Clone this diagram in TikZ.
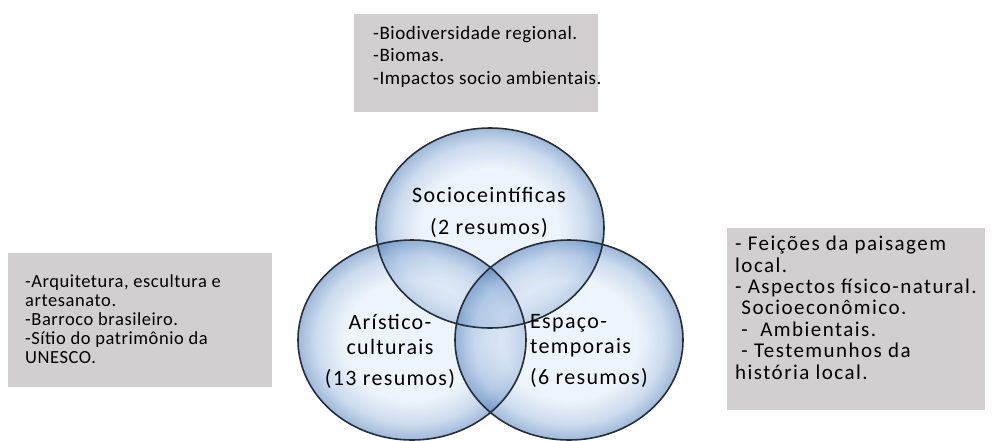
\documentclass[tikz,border=0pt]{standalone}
\usepackage{fontspec}
\setmainfont{Carlito}
\newfontfamily\topfont[LetterSpace=3]{Carlito}
\newfontfamily\leftfont[LetterSpace=3]{Carlito}
\newfontfamily\rightfont[LetterSpace=7]{Carlito}
\newfontfamily\bubblefont[LetterSpace=6]{Carlito}
\usetikzlibrary{calc,shapes.geometric}

\definecolor{boxgray}{RGB}{209,207,208}
\definecolor{bubbleout}{RGB}{64,114,178}
\definecolor{bubblemid}{RGB}{155,184,222}
\definecolor{bubblein}{RGB}{222,233,247}
\definecolor{rimcol}{RGB}{36,46,58}

\pgfdeclareradialshading{glassy}{\pgfpoint{0bp}{0bp}}{%
  color(0bp)=(bubblein); color(15bp)=(bubblein); color(21bp)=(bubblemid);
  color(25bp)=(bubbleout); color(50bp)=(bubbleout)}

\tikzset{
  bubble/.style={ellipse, minimum width=228pt, minimum height=200pt, inner sep=0pt,
    shading=glassy, fill opacity=.5},
  rim/.style={draw=rimcol, line width=1.6pt},
  notebox/.style={fill=boxgray, inner sep=0pt, anchor=north west},
  notetext/.style={anchor=north west, align=left, inner sep=0pt},
  label/.style={align=center, inner sep=0pt}
}

\begin{document}
\begin{tikzpicture}[x=1pt,y=-1pt]
  \def\rx{114}  % half width of a bubble
  \def\ry{100}  % half height
  \useasboundingbox (0,0) rectangle (993,440);

  % Grey note boxes
  \node[notebox, minimum width=244pt, minimum height=98pt] (topbox) at (354,14) {};
  \node[notebox, minimum width=264pt, minimum height=134pt] (leftbox) at (8,253) {};
  \node[notebox, minimum width=258pt, minimum height=182pt] (rightbox) at (727,228) {};

  \node[notetext, font=\topfont\fontsize{19}{22.5}\selectfont] (toptext)
    at ($(topbox.north west)+(19,12)$)
    {-Biodiversidade regional.\\-Biomas.\\-Impactos socio ambientais.};
  \node[notetext, font=\leftfont\fontsize{18.5}{19}\selectfont] (lefttext)
    at ($(leftbox.north west)+(17,21)$)
    {-Arquitetura, escultura e\\artesanato.\\-Barroco brasileiro.\\-Sítio do patrimônio da\\UNESCO.};
  \node[notetext, font=\rightfont\fontsize{21}{21.4}\selectfont] (righttext)
    at ($(rightbox.north west)+(8,8)$)
    {- Feições da paisagem\\local.\\- Aspectos físico-natural.\\\ Socioeconômico.\\\ -\ \ Ambientais.\\\ - Testemunhos da\\história local.};

  % Bubbles
  \node[bubble] (socio) at (490,228) {};
  \node[bubble] (arte) at (412,340) {};
  \node[bubble] (espaco) at (569,340) {};
  \foreach \b in {socio,arte,espaco}
    \draw[rim] (\b.center) ellipse [x radius=\rx, y radius=\ry];

  % Labels
  \node[label, font=\bubblefont\fontsize{22}{32}\selectfont] (sociolbl) at (489,212)
    {Socioceintíficas\\(2 resumos)};
  \node[label, font=\bubblefont\fontsize{22}{25}\selectfont] (artelbl) at (390,351)
    {Arístico-\\culturais\\[6pt](13 resumos)};
  \node[label, align=left, anchor=west, font=\bubblefont\fontsize{22}{25}\selectfont] (espacolbl)
    at (530,351) {Espaço-\\temporais\\[6pt](6 resumos)};
\end{tikzpicture}
\end{document}
